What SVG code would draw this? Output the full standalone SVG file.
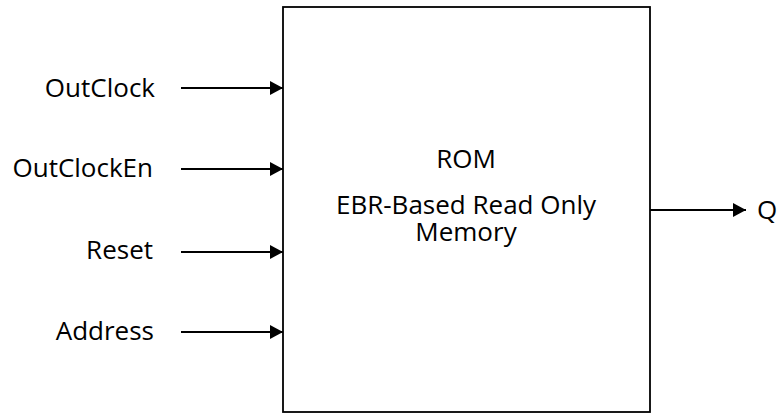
<svg xmlns="http://www.w3.org/2000/svg" width="779" height="413" viewBox="0 0 779 413">
  <style>
    .lbl { font-family: "Open Sans", "Liberation Sans", sans-serif; font-size: 26px; fill: #000; }
    .pin { stroke: #000; stroke-width: 1.8; fill: none; }
    .box { stroke: #000; stroke-width: 1.8; fill: #fff; }
  </style>
  <defs>
    <marker id="arrow" markerWidth="13" markerHeight="14" refX="13" refY="7" orient="auto" markerUnits="userSpaceOnUse" viewBox="0 0 13 14">
      <path d="M0,0 L13,7 L0,14 z" fill="#000"/>
    </marker>
  </defs>

  <!-- ROM block -->
  <g id="rom">
    <rect class="box" x="283" y="7" width="367" height="405"/>
    <text class="lbl" x="466" y="168" text-anchor="middle">ROM</text>
    <text class="lbl" x="466" y="214" text-anchor="middle">EBR-Based Read Only</text>
    <text class="lbl" x="466" y="241" text-anchor="middle">Memory</text>
  </g>

  <!-- port labels -->
  <g id="outclock"><text class="lbl" x="155" y="97" text-anchor="end">OutClock</text></g>
  <g id="outclocken"><text class="lbl" x="153" y="177" text-anchor="end">OutClockEn</text></g>
  <g id="reset"><text class="lbl" x="153" y="259" text-anchor="end">Reset</text></g>
  <g id="address"><text class="lbl" x="154" y="340" text-anchor="end">Address</text></g>
  <g id="q"><text class="lbl" x="757" y="219">Q</text></g>

  <!-- connectors -->
  <g id="connectors">
    <line class="pin" x1="181" y1="88" x2="283" y2="88" marker-end="url(#arrow)"/>
    <line class="pin" x1="181" y1="169" x2="283" y2="169" marker-end="url(#arrow)"/>
    <line class="pin" x1="181" y1="252" x2="283" y2="252" marker-end="url(#arrow)"/>
    <line class="pin" x1="181" y1="332" x2="283" y2="332" marker-end="url(#arrow)"/>
    <line class="pin" x1="650" y1="210" x2="746" y2="210" marker-end="url(#arrow)"/>
  </g>
</svg>
